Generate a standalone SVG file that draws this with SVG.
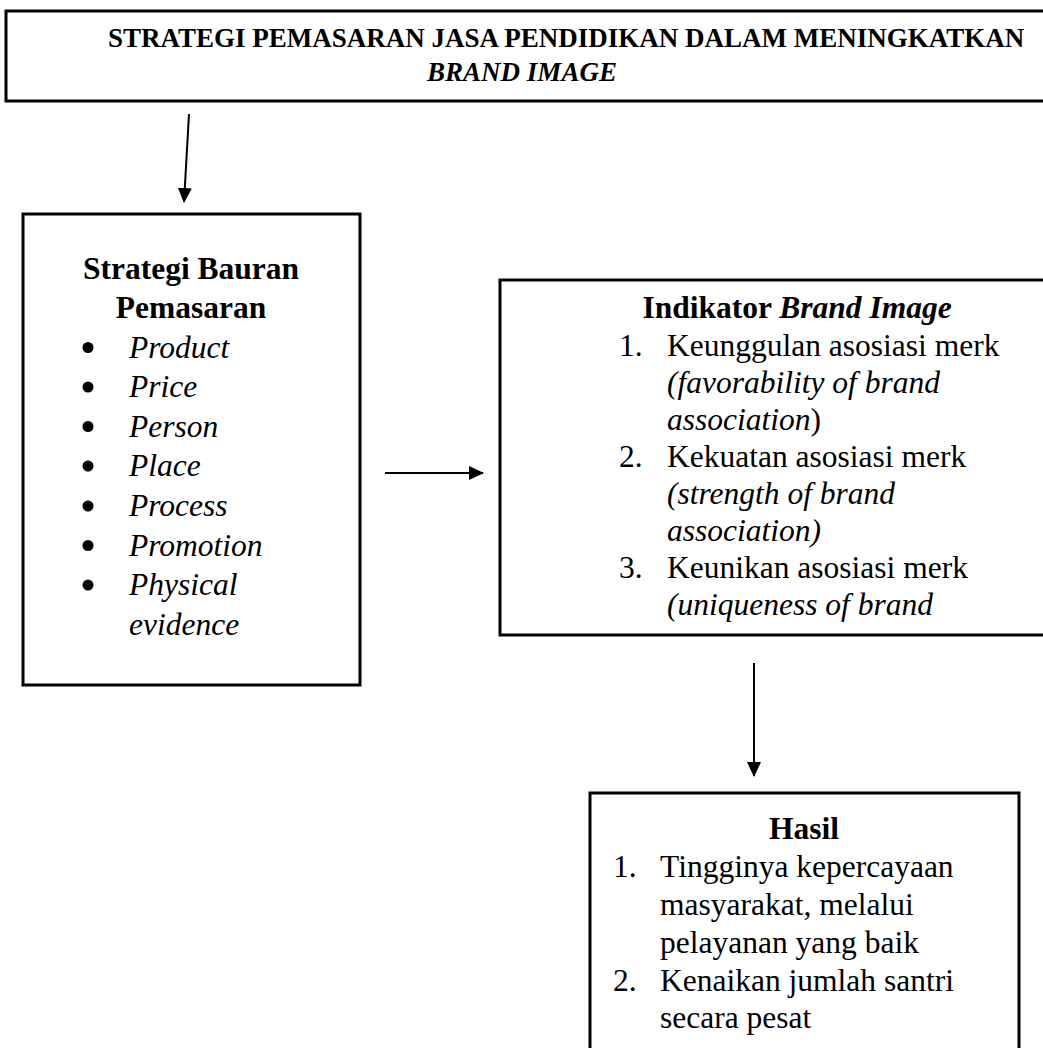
<svg xmlns="http://www.w3.org/2000/svg" width="1043" height="1048" viewBox="0 0 1043 1048">
<style>
  .box { fill: #ffffff; stroke: #000000; stroke-width: 3; }
  .t { font-family: "Liberation Serif", "Times New Roman", serif; fill: #000000; }
  .title { font-size: 27px; font-weight: bold; }
  .body { font-size: 31.5px; }
  .b { font-weight: bold; }
  .i { font-style: italic; }
  .conn { stroke: #000000; stroke-width: 2; fill: none; }
</style>
<defs>
  <marker id="arrow" markerUnits="userSpaceOnUse" markerWidth="16" markerHeight="16" viewBox="0 0 16 16" refX="14" refY="8" orient="auto">
    <path d="M0,1 L15,8 L0,15 Z" fill="#000000"/>
  </marker>
</defs>
<rect x="0" y="0" width="1043" height="1048" fill="#ffffff"/>

<g id="node-title">
  <rect class="box" x="6" y="11" width="1100" height="90"/>
  <text class="t title" x="108" y="47">STRATEGI PEMASARAN JASA PENDIDIKAN DALAM MENINGKATKAN</text>
  <text class="t title i" x="522" y="81" text-anchor="middle">BRAND IMAGE</text>
</g>

<g id="node-bauran">
  <rect class="box" x="23" y="214" width="337" height="471"/>
  <text class="t body b" x="191" y="279" text-anchor="middle">Strategi Bauran</text>
  <text class="t body b" x="191" y="318" text-anchor="middle">Pemasaran</text>
  <g fill="#000000">
    <circle cx="88" cy="347.5" r="5.5"/>
    <circle cx="88" cy="387" r="5.5"/>
    <circle cx="88" cy="426.5" r="5.5"/>
    <circle cx="88" cy="466" r="5.5"/>
    <circle cx="88" cy="506" r="5.5"/>
    <circle cx="88" cy="545.5" r="5.5"/>
    <circle cx="88" cy="585" r="5.5"/>
  </g>
  <text class="t body i" x="129" y="357.5">Product</text>
  <text class="t body i" x="129" y="397">Price</text>
  <text class="t body i" x="129" y="436.5">Person</text>
  <text class="t body i" x="129" y="476">Place</text>
  <text class="t body i" x="129" y="516">Process</text>
  <text class="t body i" x="129" y="555.5">Promotion</text>
  <text class="t body i" x="129" y="595">Physical</text>
  <text class="t body i" x="129" y="634.5">evidence</text>
</g>

<g id="node-indikator">
  <rect class="box" x="500" y="280" width="600" height="355"/>
  <text class="t body" x="797" y="318" text-anchor="middle"><tspan class="b">Indikator </tspan><tspan class="b i">Brand Image</tspan></text>
  <text class="t body" x="619" y="356">1.</text>
  <text class="t body" x="667" y="356">Keunggulan asosiasi merk</text>
  <text class="t body i" x="667" y="393">(favorability of brand</text>
  <text class="t body" x="667" y="430"><tspan class="i">association</tspan>)</text>
  <text class="t body" x="619" y="467">2.</text>
  <text class="t body" x="667" y="467">Kekuatan asosiasi merk</text>
  <text class="t body i" x="667" y="504">(strength of brand</text>
  <text class="t body i" x="667" y="541">association)</text>
  <text class="t body" x="619" y="578">3.</text>
  <text class="t body" x="667" y="578">Keunikan asosiasi merk</text>
  <text class="t body i" x="667" y="615">(uniqueness of brand</text>
</g>

<g id="node-hasil">
  <rect class="box" x="590" y="793" width="429" height="300"/>
  <text class="t body b" x="804" y="839" text-anchor="middle">Hasil</text>
  <text class="t body" x="613" y="877">1.</text>
  <text class="t body" x="660" y="877">Tingginya kepercayaan</text>
  <text class="t body" x="660" y="915">masyarakat, melalui</text>
  <text class="t body" x="660" y="953">pelayanan yang baik</text>
  <text class="t body" x="613" y="991">2.</text>
  <text class="t body" x="660" y="991">Kenaikan jumlah santri</text>
  <text class="t body" x="660" y="1028">secara pesat</text>
</g>

<g id="connectors">
  <line class="conn" x1="189" y1="114" x2="184" y2="202" marker-end="url(#arrow)"/>
  <line class="conn" x1="385" y1="473" x2="483" y2="473" marker-end="url(#arrow)"/>
  <line class="conn" x1="754" y1="663" x2="754" y2="776" marker-end="url(#arrow)"/>
</g>
</svg>
